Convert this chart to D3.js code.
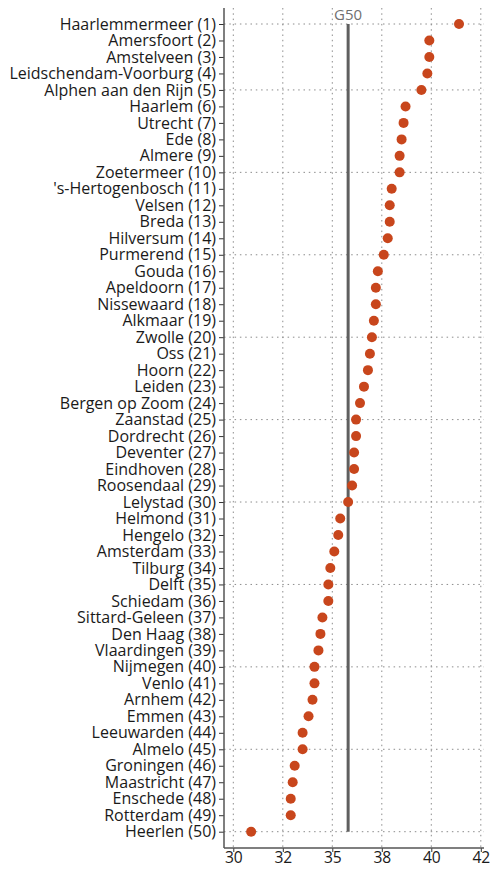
<!DOCTYPE html>
<html><head><meta charset="utf-8">
<script src="https://cdn.jsdelivr.net/npm/d3@7"></script>
<style>body{margin:0;background:#fff}svg{display:block}</style>
</head><body>
<script>
const municipalities = ["Haarlemmermeer (1)","Amersfoort (2)","Amstelveen (3)","Leidschendam-Voorburg (4)","Alphen aan den Rijn (5)","Haarlem (6)","Utrecht (7)","Ede (8)","Almere (9)","Zoetermeer (10)","'s-Hertogenbosch (11)","Velsen (12)","Breda (13)","Hilversum (14)","Purmerend (15)","Gouda (16)","Apeldoorn (17)","Nissewaard (18)","Alkmaar (19)","Zwolle (20)","Oss (21)","Hoorn (22)","Leiden (23)","Bergen op Zoom (24)","Zaanstad (25)","Dordrecht (26)","Deventer (27)","Eindhoven (28)","Roosendaal (29)","Lelystad (30)","Helmond (31)","Hengelo (32)","Amsterdam (33)","Tilburg (34)","Delft (35)","Schiedam (36)","Sittard-Geleen (37)","Den Haag (38)","Vlaardingen (39)","Nijmegen (40)","Venlo (41)","Arnhem (42)","Emmen (43)","Leeuwarden (44)","Almelo (45)","Groningen (46)","Maastricht (47)","Enschede (48)","Rotterdam (49)","Heerlen (50)"];
const values = [41.4,39.9,39.9,39.8,39.5,38.7,38.6,38.5,38.4,38.4,38.0,37.9,37.9,37.8,37.6,37.3,37.2,37.2,37.1,37.0,36.9,36.8,36.6,36.4,36.2,36.2,36.1,36.1,36.0,35.8,35.4,35.3,35.1,34.9,34.8,34.8,34.5,34.4,34.3,34.1,34.1,34.0,33.8,33.5,33.5,33.1,33.0,32.9,32.9,30.9];
const g50Value = 35.8;
const g50Label = "G50";
const xTicks = [30,32.5,35,37.5,40,42.5];
const xTickLabels = ["30","32","35","38","40","42"];
const gridRows = [1,5,10,15,20,25,30,35,40,45,50];

(function(){
const W = 492, H = 870;
const svg = d3.select("body").append("svg").attr("width", W).attr("height", H);
const font = "'Open Sans', 'Noto Sans', sans-serif";

const pLeft = 224, pTop = 8, pBottom = 848, pRight = 484;
const x = d3.scaleLinear().domain([30, 42.5]).range([233.3, 480.8]);
const y = d3.scalePoint().domain(municipalities).range([24, 831.7]);

// vertical grid
svg.append("g").selectAll("line").data(xTicks).join("line")
  .attr("x1", d => x(d)).attr("x2", d => x(d))
  .attr("y1", pTop).attr("y2", pBottom)
  .attr("stroke", "#8c8c8c").attr("stroke-width", 1).attr("stroke-dasharray", "1.5,3.8");
// horizontal grid
svg.append("g").selectAll("line").data(gridRows).join("line")
  .attr("x1", pLeft).attr("x2", pRight)
  .attr("y1", d => y(municipalities[d-1])).attr("y2", d => y(municipalities[d-1]))
  .attr("stroke", "#8c8c8c").attr("stroke-width", 1).attr("stroke-dasharray", "1.5,3.8");

// G50 line
svg.append("line")
  .attr("x1", x(g50Value)).attr("x2", x(g50Value))
  .attr("y1", y(municipalities[0])).attr("y2", y(municipalities[municipalities.length-1]))
  .attr("stroke", "#5f5f5f").attr("stroke-width", 3);
svg.append("text").attr("x", x(g50Value)).attr("y", 20)
  .attr("text-anchor", "middle").attr("font-family", font).attr("font-size", 15)
  .attr("fill", "#707070").text(g50Label);

// axes
const yAxis = svg.append("g").attr("transform", `translate(${pLeft},0)`)
  .call(d3.axisLeft(y).tickSize(5).tickPadding(3));
yAxis.select(".domain").remove();
yAxis.selectAll("text").attr("font-family", font).attr("font-size", 16).attr("fill", "#1a1a1a");
yAxis.selectAll(".tick line").attr("stroke", "#333");

const xAxis = svg.append("g").attr("transform", `translate(0,${pBottom})`)
  .call(d3.axisBottom(x).tickValues(xTicks).tickFormat((d,i) => xTickLabels[i]).tickSize(4).tickPadding(0));
xAxis.select(".domain").remove();
xAxis.selectAll("text").attr("font-family", font).attr("font-size", 15.6).attr("fill", "#1a1a1a");
xAxis.selectAll(".tick line").attr("stroke", "#333");

svg.append("line").attr("x1", pLeft).attr("x2", pLeft).attr("y1", pTop).attr("y2", pBottom)
  .attr("stroke", "#555").attr("stroke-width", 1.5);
svg.append("line").attr("x1", pLeft).attr("x2", pRight).attr("y1", pBottom).attr("y2", pBottom)
  .attr("stroke", "#555").attr("stroke-width", 1.5);

// dots
svg.append("g").selectAll("circle").data(values).join("circle")
  .attr("cx", d => x(d)).attr("cy", (d,i) => y(municipalities[i]))
  .attr("r", 5).attr("fill", "#c8461c");
})();
</script>
</body></html>
